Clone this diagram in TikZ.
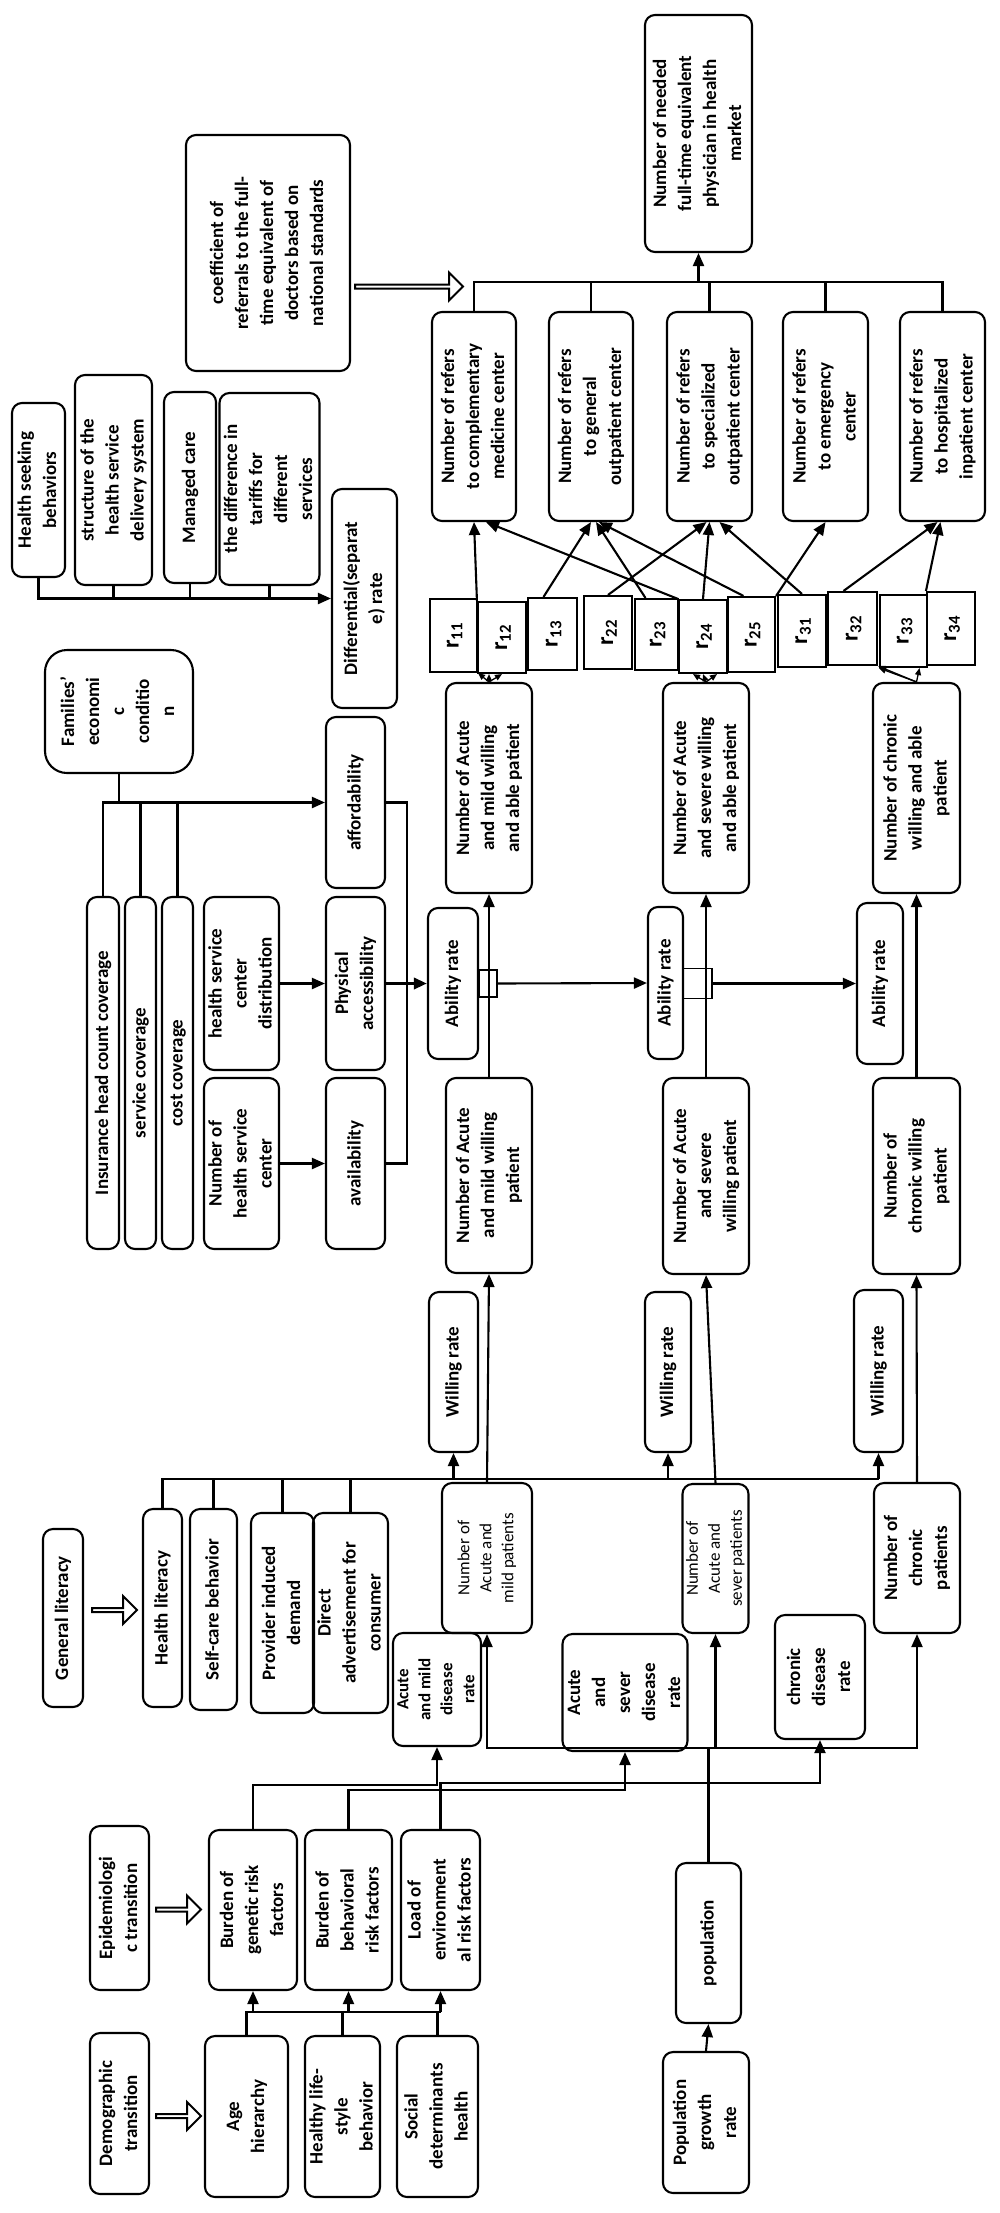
\documentclass[tikz,border=0pt]{standalone}
\usepackage{fontspec}
\setmainfont{Carlito}
\usepackage{graphicx}
\usetikzlibrary{arrows.meta,shapes.arrows,positioning}
\newcommand{\vt}[1]{\rotatebox{90}{\begin{tabular}{@{}c@{}}#1\end{tabular}}}
\tikzset{block/.style={draw, rounded corners=10pt, line width=2.1pt, inner sep=0pt,
                       font=\fontsize{19}{25}\selectfont\bfseries},
         plainfont/.style={font=\fontsize{17}{22}\selectfont},
         rcell/.style={draw, line width=2.1pt, inner sep=0pt, font=\fontsize{24}{26}\selectfont\bfseries},
         valve/.style={draw, line width=1.6pt, inner sep=0pt},
         wire/.style={line width=2.1pt},
         arr/.style={line width=2.1pt, -{Triangle[length=13pt,width=11pt]}},
         fan/.style={line width=1.3pt, -{Triangle[length=7pt,width=6pt]}},
         hollow/.style={single arrow, draw, line width=2pt, inner sep=0pt,
                        single arrow head extend=6pt, minimum width=28pt}
}

\begin{document}
\begin{tikzpicture}[x=1pt,y=-1pt]
\useasboundingbox (0,0) rectangle (1000,2213);

% physicians and referrals
\node[block, minimum width=164, minimum height=236] (coef) at (268,253) {\vt{coefficient of\\referrals to the full-\\time equivalent of\\doctors based on\\national standards}};
\node[block, minimum width=107, minimum height=237] (need) at (698.5,133.5) {\vt{Number of needed\\full-time equivalent\\physician in health\\market}};
\node[block, minimum width=84, minimum height=209] (ref1) at (474,416.5) {\vt{Number of refers\\to complementary\\medicine center}};
\node[block, minimum width=84, minimum height=209] (ref2) at (591,416.5) {\vt{Number of refers\\to general\\outpatient center}};
\node[block, minimum width=85, minimum height=209] (ref3) at (709.5,416.5) {\vt{Number of refers\\to specialized\\outpatient center}};
\node[block, minimum width=85, minimum height=209] (ref4) at (825.5,416.5) {\vt{Number of refers\\to emergency\\center}};
\node[block, minimum width=85, minimum height=209] (ref5) at (942.5,416.5) {\vt{Number of refers\\to hospitalized\\inpatient center}};
\node[hollow, minimum height=108] (h1) at (408,286.5) {};

% differential rate
\node[block, minimum width=53, minimum height=174] (seek) at (38.5,490) {\vt{Health seeking\\behaviors}};
\node[block, minimum width=77, minimum height=210] (struct) at (113.5,480) {\vt{structure of the\\health service\\delivery system}};
\node[block, minimum width=52, minimum height=191] (managed) at (190,487.5) {\vt{Managed care}};
\node[block, minimum width=93, minimum height=192] (tariff) at (269.5,489) {\vt{the difference in\\tariffs for\\different\\services}};
\node[block, minimum width=65, minimum height=219] (diff) at (364.5,598.5) {\vt{Differential(separat\\e) rate}};

% r coefficients
\node[rcell, minimum width=47, minimum height=73] (r11) at (453.5,635.5) {\vt{r\textsubscript{11}}};
\node[rcell, minimum width=48, minimum height=71] (r12) at (502,637.5) {\vt{r\textsubscript{12}}};
\node[rcell, minimum width=49, minimum height=72] (r13) at (552.5,634) {\vt{r\textsubscript{13}}};
\node[rcell, minimum width=48, minimum height=73] (r22) at (608,632.5) {\vt{r\textsubscript{22}}};
\node[rcell, minimum width=43, minimum height=71] (r23) at (656.5,634.5) {\vt{r\textsubscript{23}}};
\node[rcell, minimum width=48, minimum height=73] (r24) at (703,636.5) {\vt{r\textsubscript{24}}};
\node[rcell, minimum width=47, minimum height=75] (r25) at (751.5,634.5) {\vt{r\textsubscript{25}}};
\node[rcell, minimum width=48, minimum height=72] (r31) at (802,631) {\vt{r\textsubscript{31}}};
\node[rcell, minimum width=49, minimum height=73] (r32) at (852.5,628.5) {\vt{r\textsubscript{32}}};
\node[rcell, minimum width=47, minimum height=72] (r33) at (903.5,631) {\vt{r\textsubscript{33}}};
\node[rcell, minimum width=48, minimum height=73] (r34) at (951,628.5) {\vt{r\textsubscript{34}}};

% ability
\node[block, rounded corners=22pt, minimum width=148, minimum height=123] (family) at (119,711.5) {\vt{Families'\\economi\\c\\conditio\\n}};
\node[block, minimum width=59, minimum height=171] (afford) at (355.5,802.5) {\vt{affordability}};
\node[block, minimum width=32, minimum height=352] (ins) at (103,1073) {\vt{Insurance head count coverage}};
\node[block, minimum width=31, minimum height=352] (serv) at (140.5,1073) {\vt{service coverage}};
\node[block, minimum width=31, minimum height=352] (cost) at (177.5,1073) {\vt{cost coverage}};
\node[block, minimum width=75, minimum height=173] (distr) at (241.5,983.5) {\vt{health service\\center\\distribution}};
\node[block, minimum width=75, minimum height=171] (numhsc) at (241.5,1163.5) {\vt{Number of\\health service\\center}};
\node[block, minimum width=59, minimum height=173] (phys) at (355.5,983.5) {\vt{Physical\\accessibility}};
\node[block, minimum width=59, minimum height=171] (avail) at (355.5,1163.5) {\vt{availability}};
\node[block, minimum width=50, minimum height=151] (abr1) at (453,983.5) {\vt{Ability rate}};
\node[block, minimum width=35, minimum height=152] (abr2) at (665.5,983) {\vt{Ability rate}};
\node[block, minimum width=46, minimum height=161] (abr3) at (880,983.5) {\vt{Ability rate}};
\node[valve, minimum width=18, minimum height=27] (v1) at (488,983.5) {};
\node[valve, minimum width=29, minimum height=30] (v2) at (697.5,983.5) {};
\node[block, minimum width=86, minimum height=210] (mildable) at (489,788) {\vt{Number of Acute\\and mild willing\\and able patient}};
\node[block, minimum width=86, minimum height=210] (sevable) at (706,788) {\vt{Number of Acute\\and severe willing\\and able patient}};
\node[block, minimum width=87, minimum height=210] (chrable) at (916.5,788) {\vt{Number of chronic\\willing and able\\patient}};

% willingness
\node[block, minimum width=86, minimum height=195] (mildwill) at (489,1175.5) {\vt{Number of Acute\\and mild willing\\patient}};
\node[block, minimum width=86, minimum height=196] (sevwill) at (706,1176) {\vt{Number of Acute\\and severe\\willing patient}};
\node[block, minimum width=87, minimum height=196] (chrwill) at (916.5,1176) {\vt{Number of\\chronic willing\\patient}};
\node[block, minimum width=49, minimum height=160] (wr1) at (453.5,1372) {\vt{Willing rate}};
\node[block, minimum width=46, minimum height=160] (wr2) at (668,1372) {\vt{Willing rate}};
\node[block, minimum width=49, minimum height=162] (wr3) at (878.5,1371) {\vt{Willing rate}};
\node[block, minimum width=40, minimum height=178] (genlit) at (63,1618) {\vt{General literacy}};
\node[block, minimum width=39, minimum height=198] (hlit) at (162.5,1608) {\vt{Health literacy}};
\node[block, minimum width=47, minimum height=201] (selfcare) at (213.5,1609.5) {\vt{Self-care behavior}};
\node[block, minimum width=63, minimum height=200] (provider) at (282.5,1613) {\vt{Provider induced\\demand}};
\node[block, minimum width=65, minimum height=200] (advert) at (350.5,1613) {\vt{Direct\\advertisement for\\consumer}};
\node[hollow, minimum height=45] (h2) at (113.5,1610) {};

% patients
\node[block, plainfont, minimum width=90, minimum height=150] (mildpat) at (487,1558) {\vt{Number of\\Acute and\\mild patients}};
\node[block, plainfont, minimum width=65, minimum height=149] (sevpat) at (715.5,1558.5) {\vt{Number of\\Acute and\\sever patients}};
\node[block, minimum width=86, minimum height=150] (chrpat) at (917,1558) {\vt{Number of\\chronic\\patients}};
\node[block, font=\fontsize{17}{22}\selectfont\bfseries, minimum width=82, minimum height=113] (mildrate) at (437,1689.5) {\vt{Acute\\and mild\\disease\\rate}};
\node[block, minimum width=122, minimum height=117] (sevrate) at (625,1692.5) {\vt{Acute\\and\\sever\\disease\\rate}};
\node[block, minimum width=90, minimum height=124] (chrrate) at (820,1677) {\vt{chronic\\disease\\rate}};

% risk factors and population
\node[block, minimum width=59, minimum height=164] (epid) at (119.5,1908) {\vt{Epidemiologi\\c transition}};
\node[block, minimum width=59, minimum height=161] (demo) at (119.5,2113.5) {\vt{Demographic\\transition}};
\node[hollow, minimum height=45] (h3) at (177.5,1909.5) {};
\node[hollow, minimum height=45] (h4) at (177.5,2116) {};
\node[block, minimum width=88, minimum height=160] (genetic) at (253,1910) {\vt{Burden of\\genetic risk\\factors}};
\node[block, minimum width=87, minimum height=160] (behav) at (348.5,1910) {\vt{Burden of\\behavioral\\risk factors}};
\node[block, minimum width=79, minimum height=160] (envir) at (440.5,1910) {\vt{Load of\\environment\\al risk factors}};
\node[block, minimum width=83, minimum height=161] (age) at (246.5,2116.5) {\vt{Age\\hierarchy}};
\node[block, minimum width=71, minimum height=161] (life) at (342.5,2116.5) {\vt{Healthy life-\\style\\behavior}};
\node[block, minimum width=81, minimum height=161] (social) at (437.5,2116.5) {\vt{Social\\determinants\\health}};
\node[block, minimum width=65, minimum height=160] (pop) at (708.5,1943) {\vt{population}};
\node[block, minimum width=86, minimum height=141] (popgr) at (706,2122.5) {\vt{Population\\growth\\rate}};

\coordinate (top) at (0,282);
\coordinate (lit) at (0,1479);
\coordinate (rk) at (0,2012);
\coordinate (pl) at (708.5,1748);
\coordinate (jn) at (407,0);

% referrals to physicians
\draw[wire] (ref1.north) |- (ref5.north |- top) -- (ref5.north);
\draw[wire] (ref2.north) -- (ref2.north |- top);
\draw[wire] (ref3.north) -- (ref3.north |- top);
\draw[wire] (ref4.north) -- (ref4.north |- top);
\draw[arr] (need.south |- top) -- (need.south);
\draw[arr] (r12.north west) -- (ref1.south);
\draw[arr] (r24.north west) -- ([xshift=12pt]ref1.south);
\draw[arr] ([xshift=-9pt]r13.north) -- (ref2.south);
\draw[arr] ([xshift=-11pt]r23.north) -- ([xshift=5pt]ref2.south);
\draw[arr] ([xshift=-8pt]r25.north) -- ([xshift=8pt]ref2.south);
\draw[arr] (r22.north) -- ([xshift=-3pt]ref3.south);
\draw[arr] (r24.north) -- (ref3.south);
\draw[arr] (r31.north) -- ([xshift=10pt]ref3.south);
\draw[arr] (r25.north east) -- (ref4.south);
\draw[arr] ([xshift=-9pt]r32.north) -- ([xshift=-5pt]ref5.south);
\draw[arr] (r34.north west) -- ([xshift=-2pt]ref5.south);
\draw[fan] (mildable.north) -- (r11.south east);
\draw[fan] (mildable.north) -- ([xshift=-13pt]r12.south);
\draw[fan] (mildable.north) -- (r12.south);
\draw[fan] (sevable.north) -- ([xshift=-10pt]r24.south);
\draw[fan] (sevable.north) -- (r24.south);
\draw[fan] (sevable.north) -- ([xshift=14pt]r24.south);
\draw[fan] (chrable.north) -- (r32.south east);
\draw[fan] (chrable.north) -- (r33.south west);
\draw[fan] (chrable.north) -- ([xshift=16pt]r33.south);

% differential rate
\draw[arr] (seek.south) |- (diff.west);
\draw[wire] (struct.south) -- (struct.south |- diff.west);
\draw[wire] (managed.south) -- (managed.south |- diff.west);
\draw[wire] (tariff.south) -- (tariff.south |- diff.west);

% ability rate
\draw[arr] (ins.north) |- (afford.west);
\draw[wire] (family.south) -- (family.south |- afford.west);
\draw[wire] (serv.north) -- (serv.north |- afford.west);
\draw[wire] (cost.north) -- (cost.north |- afford.west);
\draw[arr] (distr.east) -- (phys.west);
\draw[arr] (numhsc.east) -- (avail.west);
\draw[wire] (afford.east) -| (jn |- avail.east) -- (avail.east);
\draw[arr, line width=3.2pt] (phys.east) -- (abr1.west);
\draw[arr] (v1.east) -- (abr2.west);
\draw[arr] (v2.east) -- (abr3.west);
\draw[arr] (mildwill.north) -- (mildable.south);
\draw[arr] (sevwill.north) -- (sevable.south);
\draw[arr] (chrwill.north) -- (chrable.south);

% willing rate
\draw[wire, line width=2.8pt] (hlit.north) |- (wr3.south |- lit);
\draw[wire] (selfcare.north) -- (selfcare.north |- lit);
\draw[wire] (provider.north) -- (provider.north |- lit);
\draw[wire] (advert.north) -- (advert.north |- lit);
\draw[arr] (wr1.south |- lit) -- (wr1.south);
\draw[arr] (wr2.south |- lit) -- (wr2.south);
\draw[arr] (wr3.south |- lit) -- (wr3.south);
\draw[arr] (mildpat.north) -- (mildwill.south);
\draw[arr] (sevpat.north) -- (sevwill.south);
\draw[arr] (chrpat.north) -- (chrwill.south);

% population and disease rates
\draw[wire, line width=2.8pt] (pop.north) -- (pl);
\draw[arr] (pl) -| (mildpat.south);
\draw[arr] (pl) -| (chrpat.south);
\draw[arr] (sevpat.south |- pl) -- (sevpat.south);
\draw[arr] (popgr.north) -- (pop.south);
\draw[arr] (genetic.north) -- ++(0,-44) -| (mildrate.south);
\draw[arr] (behav.north) -- ++(0,-39) -| (sevrate.south);
\draw[arr] (envir.north) -- ++(0,-46) -| (chrrate.south);

% transitions to risk factors
\draw[wire] (age.north) |- (envir.south |- rk);
\draw[wire] (life.north) -- (life.north |- rk);
\draw[wire] (social.north) -- (social.north |- rk);
\draw[arr] (genetic.south |- rk) -- (genetic.south);
\draw[arr] (behav.south |- rk) -- (behav.south);
\draw[arr] (envir.south |- rk) -- (envir.south);
\end{tikzpicture}
\end{document}
